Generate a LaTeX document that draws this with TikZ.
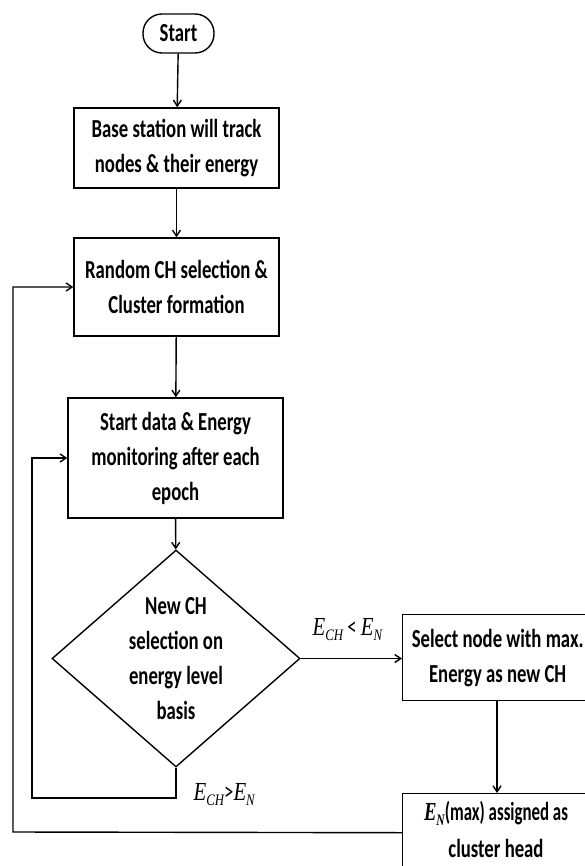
\documentclass[tikz,border=0pt]{standalone}
\usepackage{fontspec}
\setmainfont{Carlito}[FakeStretch=0.72]
\newfontfamily\labf{Liberation Serif}[FakeStretch=0.8]
\newfontfamily\labfb{Liberation Serif Bold Italic}[FakeStretch=0.8]
\usetikzlibrary{arrows.meta,shapes.geometric}
\newcommand\myE[1]{{\labf\itshape E\raisebox{-0.45ex}{\fontsize{16}{16}\selectfont #1}}}
\newcommand\myEb[1]{{\labfb E\raisebox{-0.45ex}{\fontsize{16}{16}\selectfont #1}}}
\begin{document}
\begin{tikzpicture}[x=1pt,y=-1pt,
  line width=1.4pt,
  every node/.style={font=\fontsize{26}{35}\selectfont\bfseries, align=center, inner sep=0pt},
  box/.style={draw, rectangle},
  arr/.style={-{Straight Barb[length=6pt,width=8pt]}},
  lab/.style={font=\fontsize{26}{28}\selectfont}]
\useasboundingbox (0,0) rectangle (585,866);
\node[box, rounded corners=19pt, minimum width=71pt, minimum height=39pt] (start) at (178.5,33.5) {Start};
\node[box, minimum width=205pt, minimum height=80pt] (b1) at (176.5,148) {Base station will track\\nodes \& their energy};
\node[box, minimum width=205pt, minimum height=98pt] (b2) at (176.5,287) {Random CH selection \&\\Cluster formation};
\node[box, minimum width=215pt, minimum height=120pt] (b3) at (175.5,458) {Start data \& Energy\\monitoring after each\\epoch};
\node[draw, diamond, aspect=1.143, minimum width=248pt, minimum height=217pt] (dec) at (176,658.5) {New CH\\selection on\\energy level\\basis};
\node[box, minimum width=190pt, minimum height=86pt, anchor=north west] (sel) at (402,614) {Select node with max.\\Energy as new CH};
\node[box, minimum width=190pt, minimum height=78pt, anchor=north west] (asg) at (402,793) {};
\node[anchor=base] (asgt) at (496,820) {\scalebox{0.9}[1]{\myEb{N}(max) assigned as}};
\node[anchor=base] (asgt2) at (496,857) {cluster head};
\coordinate (c1) at (176,798);
\coordinate (c2) at (32,798);
\coordinate (c3) at (13,832);
\draw[arr] (start) -- (b1);
\draw[arr] (b1) -- (b2);
\draw[arr] (b2) -- (b3);
\draw[arr] (b3) -- (dec);
\draw[arr] (dec.east) -- (sel.west |- dec.east);
\draw[arr] (sel.south -| 497,0) -- (asg.north -| 497,0);
\draw[arr] (dec.south) -- (c1) -- (c2) |- (b3.west);
\draw[arr] (asg.west) -- (c3) |- (b2.west);
\node[lab, anchor=base west] (l1) at (312,635) {\myE{CH} \textless{} \myE{N}};
\node[lab, anchor=base west] (l2) at (193,800) {\myE{CH}\textgreater\myE{N}};
\end{tikzpicture}
\end{document}
